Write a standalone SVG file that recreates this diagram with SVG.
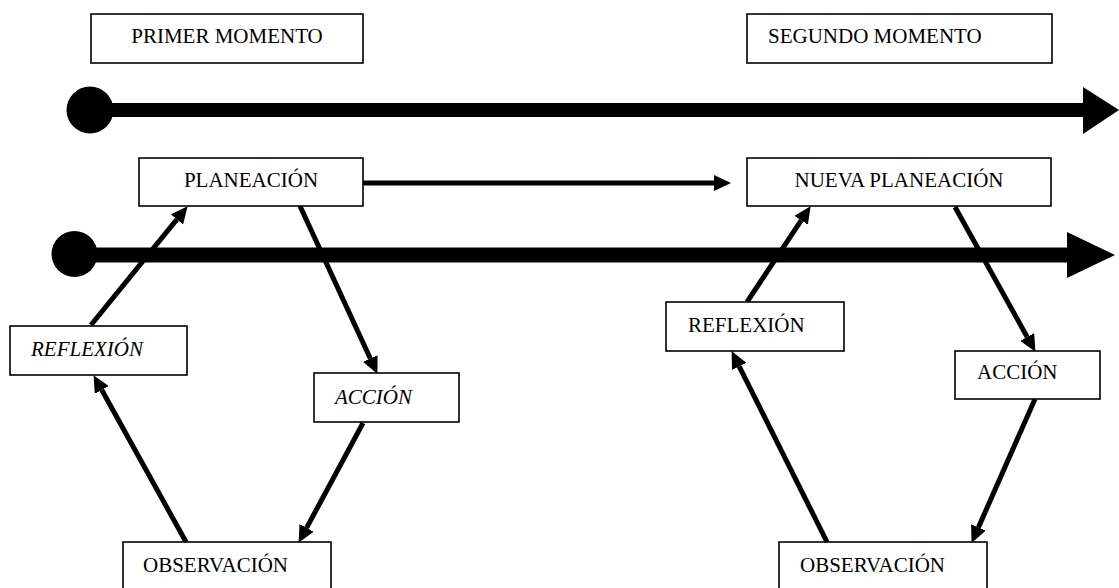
<svg xmlns="http://www.w3.org/2000/svg" width="1119" height="588" viewBox="0 0 1119 588">
<style>
.box{fill:#fff;stroke:#000;stroke-width:1.6}
.t{font-family:"Liberation Serif","Times New Roman",serif;font-size:21px;fill:#000}
.i{font-style:italic}
.c{text-anchor:middle}
.con{stroke:#000;stroke-width:5;fill:none}
.tl{stroke:#000;fill:none}
</style>
<defs>
<marker id="ah" markerUnits="userSpaceOnUse" markerWidth="17" markerHeight="16" refX="0" refY="8" orient="auto" viewBox="0 0 17 16">
<path d="M0,0 L17,8 L0,16 z" fill="#000"/>
</marker>
</defs>
<rect width="1119" height="588" fill="#fff"/>
<g id="timelines">
<line class="tl" x1="90" y1="110" x2="1084" y2="110" stroke-width="14"/>
<circle cx="90" cy="110" r="23.5" fill="#000"/>
<polygon points="1083,87 1119,110 1083,134" fill="#000"/>
<line class="tl" x1="74" y1="255" x2="1068" y2="255" stroke-width="15"/>
<circle cx="74.5" cy="254" r="23" fill="#000"/>
<polygon points="1067,232 1115,255 1067,278" fill="#000"/>
</g>
<g id="connectors">
<line class="con" x1="91" y1="325" x2="176.9" y2="219.4" marker-end="url(#ah)"/>
<line class="con" x1="300" y1="206" x2="370.3" y2="358.5" marker-end="url(#ah)"/>
<line class="con" x1="363" y1="423" x2="306.6" y2="527.9" marker-end="url(#ah)"/>
<line class="con" x1="186" y1="542" x2="101.8" y2="390" marker-end="url(#ah)"/>
<line class="con" x1="363" y1="183" x2="714" y2="183" marker-end="url(#ah)"/>
<line class="con" x1="747" y1="302" x2="801.2" y2="220.3" marker-end="url(#ah)"/>
<line class="con" x1="955" y1="207" x2="1027.2" y2="337" marker-end="url(#ah)"/>
<line class="con" x1="1035" y1="399" x2="978.4" y2="527.4" marker-end="url(#ah)"/>
<line class="con" x1="827" y1="542" x2="739.2" y2="366.3" marker-end="url(#ah)"/>
</g>
<g id="primer-momento">
<rect class="box" x="91" y="14" width="272" height="49"/>
<text class="t c" x="227" y="43">PRIMER MOMENTO</text>
</g>
<g id="segundo-momento">
<rect class="box" x="747" y="14" width="305" height="49"/>
<text class="t" x="768" y="43">SEGUNDO MOMENTO</text>
</g>
<g id="planeacion">
<rect class="box" x="139" y="158" width="224" height="48"/>
<text class="t c" x="251" y="187">PLANEACIÓN</text>
</g>
<g id="nueva-planeacion">
<rect class="box" x="747" y="158" width="304" height="48"/>
<text class="t c" x="899" y="187">NUEVA PLANEACIÓN</text>
</g>
<g id="reflexion-1">
<rect class="box" x="10" y="326" width="177" height="49"/>
<text class="t i" x="31" y="356">REFLEXIÓN</text>
</g>
<g id="accion-1">
<rect class="box" x="314" y="373" width="145" height="49"/>
<text class="t i" x="335" y="404">ACCIÓN</text>
</g>
<g id="observacion-1">
<rect class="box" x="123" y="542" width="208" height="60"/>
<text class="t" x="143" y="572">OBSERVACIÓN</text>
</g>
<g id="reflexion-2">
<rect class="box" x="666" y="302" width="178" height="49"/>
<text class="t" x="688" y="332">REFLEXIÓN</text>
</g>
<g id="accion-2">
<rect class="box" x="955" y="351" width="145" height="48"/>
<text class="t" x="977" y="379">ACCIÓN</text>
</g>
<g id="observacion-2">
<rect class="box" x="779" y="542" width="208" height="60"/>
<text class="t" x="800" y="572">OBSERVACIÓN</text>
</g>
</svg>
